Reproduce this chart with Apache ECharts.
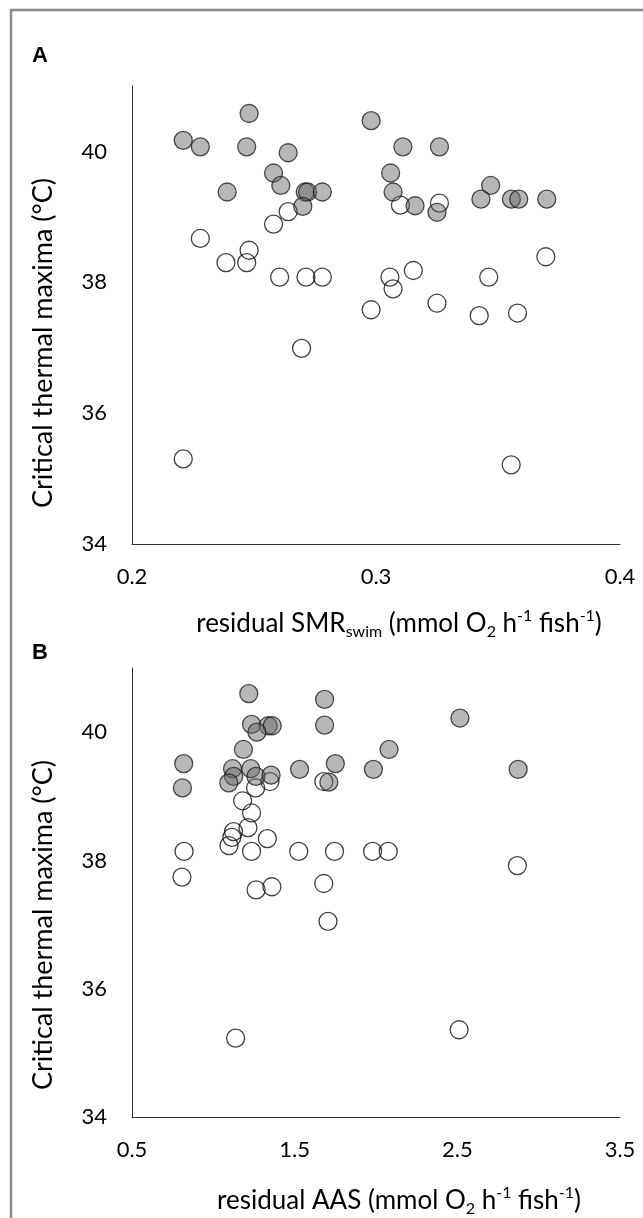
<!DOCTYPE html>
<html>
<head>
<meta charset="utf-8">
<script src="https://cdn.jsdelivr.net/npm/echarts@6/dist/echarts.min.js"></script>
<style>
html,body{margin:0;padding:0;background:#fff;}
#chart{width:643px;height:1218px;}
</style>
</head>
<body>
<div id="chart"></div>
<script>
// Panel A: residual SMRswim vs CTmax
const smrHigh = [
  [0.221, 40.17], [0.228, 40.07], [0.248, 40.58], [0.247, 40.07], [0.264, 39.98],
  [0.239, 39.38], [0.258, 39.67], [0.261, 39.48], [0.271, 39.38], [0.272, 39.38],
  [0.278, 39.38], [0.270, 39.16], [0.298, 40.47], [0.311, 40.07], [0.326, 40.07],
  [0.306, 39.67], [0.307, 39.38], [0.316, 39.17], [0.325, 39.07], [0.347, 39.48],
  [0.343, 39.27], [0.3555, 39.27], [0.3585, 39.27], [0.370, 39.27]
];
const smrLow = [
  [0.310, 39.18], [0.326, 39.21], [0.264, 39.08], [0.258, 38.89], [0.228, 38.67],
  [0.248, 38.49], [0.2385, 38.30], [0.247, 38.30], [0.2605, 38.08], [0.2713, 38.08],
  [0.278, 38.08], [0.3057, 38.08], [0.307, 37.90], [0.3153, 38.18], [0.3462, 38.08],
  [0.3696, 38.39], [0.298, 37.58], [0.325, 37.68], [0.3423, 37.49], [0.358, 37.53],
  [0.2695, 36.99], [0.221, 35.30], [0.3554, 35.21]
];
// Panel B: residual AAS vs CTmax
const aasHigh = [
  [1.218, 40.60], [1.684, 40.51], [2.516, 40.22], [1.235, 40.12], [1.337, 40.10],
  [1.362, 40.10], [1.268, 40.00], [1.684, 40.11], [1.185, 39.73], [2.080, 39.73],
  [0.818, 39.51], [1.750, 39.51], [1.530, 39.42], [1.984, 39.42], [2.874, 39.42],
  [1.118, 39.43], [1.230, 39.43], [1.125, 39.31], [1.262, 39.31], [1.355, 39.33],
  [1.095, 39.21], [0.810, 39.13], [1.710, 39.22]
];
const aasLow = [
  [1.679, 39.23], [1.348, 39.23], [1.260, 39.13], [1.180, 38.93], [1.235, 38.74],
  [1.213, 38.51], [1.124, 38.45], [1.114, 38.36], [1.096, 38.23], [1.332, 38.34],
  [0.820, 38.14], [1.235, 38.14], [1.525, 38.14], [1.745, 38.14], [1.979, 38.14],
  [2.075, 38.14], [2.869, 37.92], [0.807, 37.74], [1.263, 37.54], [1.360, 37.59],
  [1.679, 37.64], [1.705, 37.05], [1.137, 35.23], [2.511, 35.36]
];
const yTicks = [34, 36, 38, 40];
const xTicksA = [0.2, 0.3, 0.4];
const xTicksB = [0.5, 1.5, 2.5, 3.5];
const yTitle = 'Critical thermal maxima (°C)';
const xTitleA = '{n|residual SMR}{sub|swim}{n| (mmol O}{sub|2}{n| h}{sup|-1}{n| fish}{sup|-1}{n|)}';
const xTitleB = '{n|residual AAS (mmol O}{sub|2}{n| h}{sup|-1}{n| fish}{sup|-1}{n|)}';
const panelLabels = ['A', 'B'];

const FONT = 'Lato';
const TXT = '#000';
const richStyle = {
  n: {fontFamily: FONT, fontSize: 26, color: TXT, lineHeight: 32, verticalAlign: 'middle'},
  sub: {fontFamily: FONT, fontSize: 16, color: TXT, lineHeight: 16, verticalAlign: 'bottom'},
  sup: {fontFamily: FONT, fontSize: 16, color: TXT, lineHeight: 16, verticalAlign: 'top'}
};

function near(list, v) { return list.some(t => Math.abs(t - v) < 1e-6); }

function xAxis(idx, min, max, step, ticks, name, gap) {
  return {
    type: 'value', gridIndex: idx, min: min, max: max, interval: step,
    axisLine: {show: true, lineStyle: {color: '#333', width: 1}},
    axisTick: {show: false}, splitLine: {show: false},
    axisLabel: {
      margin: 22, fontFamily: FONT, fontSize: 22, color: TXT,
      showMinLabel: true, showMaxLabel: true,
      formatter: v => near(ticks, v) ? String(+v.toFixed(1)) : ''
    },
    name: name, nameLocation: 'middle', nameGap: gap,
    nameTextStyle: {padding: [0, 0, 0, 46], rich: richStyle}
  };
}
function yAxis(idx) {
  return {
    type: 'value', gridIndex: idx, min: 34, max: 41, interval: 2,
    axisLine: {show: true, lineStyle: {color: '#333', width: 1}},
    axisTick: {show: false}, splitLine: {show: false},
    axisLabel: {
      margin: 25, fontFamily: FONT, fontSize: 22, color: TXT,
      formatter: v => near(yTicks, v) ? String(v) : ''
    }
  };
}
function highSeries(x, y, data) {
  return {
    type: 'scatter', xAxisIndex: x, yAxisIndex: y, data: data, symbol: 'circle', symbolSize: 18, z: 3,
    itemStyle: {color: 'rgba(100,100,100,0.58)', borderColor: '#222', borderWidth: 1.3}
  };
}
function lowSeries(x, y, data) {
  return {
    type: 'scatter', xAxisIndex: x, yAxisIndex: y, data: data, symbol: 'circle', symbolSize: 18, z: 2,
    itemStyle: {color: 'rgba(255,255,255,0)', borderColor: '#111', borderWidth: 1.3}
  };
}
function yTitleText(cy) {
  return {
    type: 'text', x: 43, y: cy, rotation: Math.PI / 2, silent: true,
    style: {text: yTitle, fontFamily: FONT, fontSize: 27, fill: TXT, align: 'center', verticalAlign: 'middle'}
  };
}
const panelStyle = {fontFamily: 'Liberation Sans', fontWeight: 'bold', fontSize: 22, color: '#000'};

const chart = echarts.init(document.getElementById('chart'), null, {renderer: 'canvas'});
chart.setOption({
  animation: false,
  backgroundColor: '#fff',
  title: [
    {text: panelLabels[0], left: 32, top: 45, padding: 0, textStyle: panelStyle},
    {text: panelLabels[1], left: 32, top: 642, padding: 0, textStyle: panelStyle}
  ],
  graphic: [
    {type: 'line', shape: {x1: 10, y1: 10, x2: 643, y2: 10}, style: {stroke: '#8a8a8a', lineWidth: 2.5}, silent: true},
    {type: 'line', shape: {x1: 11, y1: 9, x2: 11, y2: 1218}, style: {stroke: '#8a8a8a', lineWidth: 2.5}, silent: true},
    yTitleText(343),
    yTitleText(925)
  ],
  grid: [
    {left: 132, top: 86, width: 488, height: 458},
    {left: 132, top: 668, width: 488, height: 459}
  ],
  xAxis: [
    xAxis(0, 0.2, 0.4, 0.1, xTicksA, xTitleA, 64),
    xAxis(1, 0.5, 3.5, 0.5, xTicksB, xTitleB, 68)
  ],
  yAxis: [yAxis(0), yAxis(1)],
  series: [
    lowSeries(0, 0, smrLow), highSeries(0, 0, smrHigh),
    lowSeries(1, 1, aasLow), highSeries(1, 1, aasHigh)
  ]
});
</script>
</body>
</html>
